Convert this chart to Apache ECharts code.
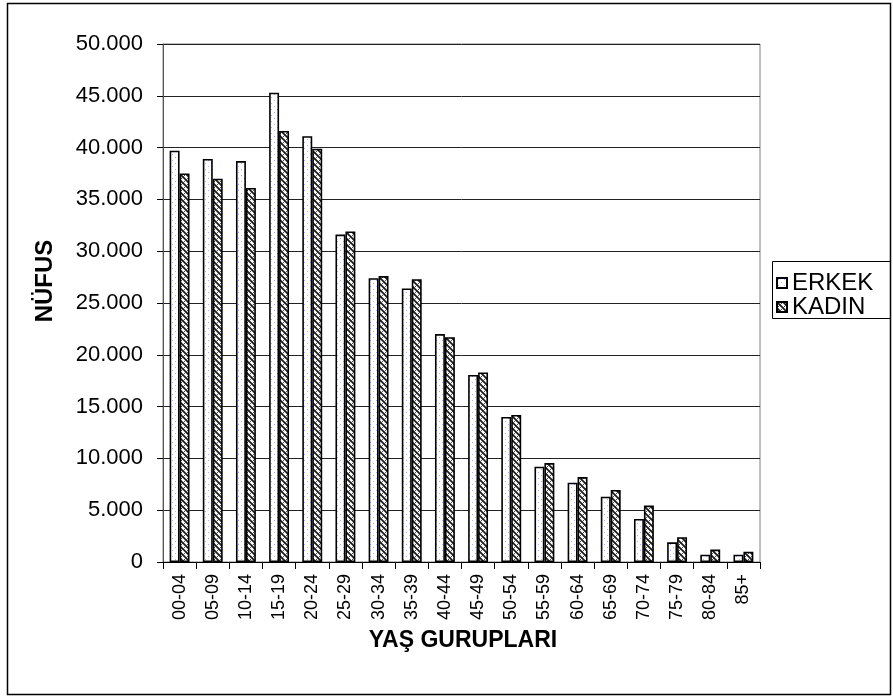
<!DOCTYPE html>
<html>
<head>
<meta charset="utf-8">
<script src="https://cdn.jsdelivr.net/npm/echarts@6/dist/echarts.min.js"></script>
<style>
  html, body { margin: 0; padding: 0; background: #fff; }
  #chart { width: 893px; height: 698px; }
</style>
</head>
<body>
<div id="chart"></div>
<script>
// Age groups and population by sex
const ageGroups = ['00-04', '05-09', '10-14', '15-19', '20-24', '25-29', '30-34', '35-39', '40-44',
  '45-49', '50-54', '55-59', '60-64', '65-69', '70-74', '75-79', '80-84', '85+'];
const erkek = [39700, 38900, 38700, 45300, 41100, 31600, 27400, 26400, 22000,
  18050, 14000, 9200, 7650, 6300, 4150, 1900, 700, 700];
const kadin = [37500, 37000, 36100, 41600, 39900, 31900, 27600, 27300, 21700,
  18300, 14200, 9550, 8200, 6950, 5450, 2400, 1200, 1000];
const yTicks = { min: 0, max: 50000, interval: 5000 };

// Fill patterns for the two series
function dotPattern() {
  const c = document.createElement('canvas');
  c.width = 6; c.height = 6;
  const g = c.getContext('2d');
  g.fillStyle = '#ffffff';
  g.fillRect(0, 0, 6, 6);
  g.fillStyle = '#a9b0ff';
  g.fillRect(1, 1, 1, 1);
  g.fillRect(4, 4, 1, 1);
  return c;
}
function weavePattern() {
  const c = document.createElement('canvas');
  c.width = 6; c.height = 6;
  const g = c.getContext('2d');
  g.fillStyle = '#ffffff';
  g.fillRect(0, 0, 6, 6);
  g.strokeStyle = '#1a1a1a';
  g.lineWidth = 1.7;
  g.beginPath();
  g.moveTo(-1, -1); g.lineTo(7, 7);
  g.moveTo(-4, 2); g.lineTo(4, 10);
  g.moveTo(2, -4); g.lineTo(10, 4);
  g.stroke();
  g.lineWidth = 1;
  g.strokeStyle = '#444';
  g.beginPath();
  g.moveTo(7, -1); g.lineTo(-1, 7);
  g.stroke();
  return c;
}

function fmt(v) {
  return String(v).replace(/\B(?=(\d{3})+(?!\d))/g, '.');
}

const chart = echarts.init(document.getElementById('chart'), null, { renderer: 'canvas' });
const font = '"Liberation Sans", Arial, sans-serif';

chart.setOption({
  backgroundColor: '#ffffff',
  animation: false,
  textStyle: { fontFamily: font, color: '#000' },
  grid: {
    left: 163, right: 133, top: 44, bottom: 136,
    show: true, borderColor: '#808080', borderWidth: 1
  },
  legend: {
    orient: 'vertical',
    left: 776, top: 271, padding: 0,
    itemWidth: 10, itemHeight: 10, itemGap: 0,
    icon: 'rect',
    textStyle: { fontFamily: font, fontSize: 24, lineHeight: 22, color: '#000', padding: [0, 0, 0, 0] },
    data: ['ERKEK', 'KADIN']
  },
  xAxis: {
    type: 'category',
    data: ageGroups,
    axisLine: { lineStyle: { color: '#000', width: 1 } },
    axisTick: { show: true, length: 7, lineStyle: { color: '#000' } },
    axisLabel: {
      rotate: 90, margin: 12, fontSize: 18, color: '#000', fontFamily: font,
      interval: 0
    }
  },
  yAxis: {
    type: 'value',
    min: yTicks.min, max: yTicks.max, interval: yTicks.interval,
    axisLine: { show: true, lineStyle: { color: '#555', width: 1 } },
    axisTick: { show: true, length: 6, lineStyle: { color: '#000' } },
    axisLabel: { margin: 20, fontSize: 22, color: '#000', fontFamily: font, formatter: fmt },
    splitLine: { lineStyle: { color: '#222', width: 1 } }
  },
  series: [
    {
      name: 'ERKEK', type: 'bar', data: erkek,
      barGap: '0%', barCategoryGap: '40%',
      itemStyle: { color: { image: dotPattern(), repeat: 'repeat' }, borderColor: '#000', borderWidth: 1.6 }
    },
    {
      name: 'KADIN', type: 'bar', data: kadin,
      itemStyle: { color: { image: weavePattern(), repeat: 'repeat' }, borderColor: '#000', borderWidth: 1.6 }
    }
  ],
  graphic: [
    {
      type: 'rect', silent: true, z: 100,
      shape: { x: 7.5, y: 3.5, width: 883, height: 691 },
      style: { fill: 'none', stroke: '#000', lineWidth: 1.5 }
    },
    {
      type: 'rect', silent: true, z: 100,
      shape: { x: 772.5, y: 261.5, width: 118, height: 57 },
      style: { fill: 'none', stroke: '#000', lineWidth: 1 }
    },
    {
      type: 'text', silent: true, z: 100,
      x: 45, y: 281, rotation: Math.PI / 2,
      style: {
        text: 'NÜFUS', fontFamily: font, fontSize: 24, fontWeight: 'bold',
        fill: '#000', align: 'center', verticalAlign: 'middle'
      }
    },
    {
      type: 'text', silent: true, z: 100,
      x: 463, y: 641,
      style: {
        text: 'YAŞ GURUPLARI', fontFamily: font, fontSize: 23, fontWeight: 'bold',
        fill: '#000', align: 'center', verticalAlign: 'middle'
      }
    }
  ]
});
</script>
</body>
</html>
